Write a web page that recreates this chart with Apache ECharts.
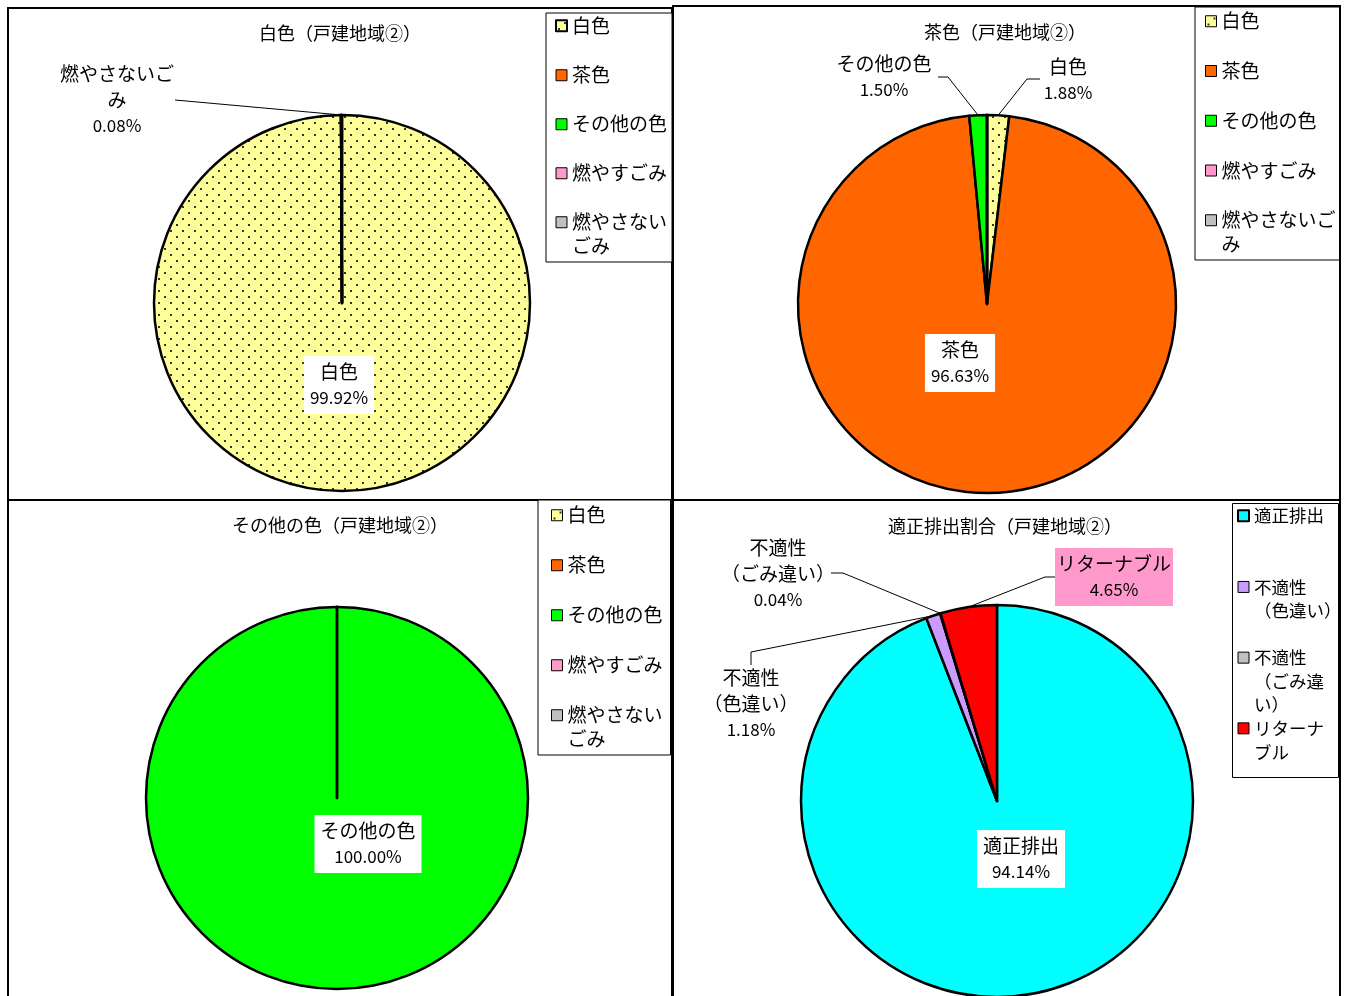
<!DOCTYPE html>
<html>
<head>
<meta charset="utf-8">
<script src="https://cdn.jsdelivr.net/npm/echarts@6/dist/echarts.min.js"></script>
<style>
  html, body { margin: 0; padding: 0; background: #fff; }
  #chart { width: 1347px; height: 996px; }
</style>
</head>
<body>
<div id="chart"></div>
<script>
// ---- categories ----
const colorCategories = ['白色', '茶色', 'その他の色', '燃やすごみ', '燃やさないごみ'];
const disposalCategories = ['適正排出', '不適性（色違い）', '不適性（ごみ違い）', 'リターナブル'];

// ---- shares (%) ----
const whiteValues = [99.92, 0, 0, 0, 0.08];
const brownValues = [1.88, 96.63, 1.50, 0, 0];
const otherValues = [0, 0, 100.00, 0, 0];
const disposalValues = [94.14, 1.18, 0.04, 4.65];

// ---- titles ----
const chartTitles = [
  '白色（戸建地域②）',
  '茶色（戸建地域②）',
  'その他の色（戸建地域②）',
  '適正排出割合（戸建地域②）'
];

const FONT = '"Noto Sans CJK JP", "Noto Sans", sans-serif';

// yellow fill with a staggered dot grid
function dottedFill() {
  const c = document.createElement('canvas');
  c.width = 12; c.height = 12;
  const g = c.getContext('2d');
  g.fillStyle = '#ffff99';
  g.fillRect(0, 0, 12, 12);
  g.fillStyle = '#333';
  g.fillRect(2, 2, 2, 2);
  g.fillRect(8, 8, 2, 2);
  return { image: c, repeat: 'repeat' };
}

const colorFills = [dottedFill(), '#ff6600', '#00ff00', '#ff99cc', '#c0c0c0'];
const disposalFills = ['#00ffff', '#cc99ff', '#c0c0c0', '#ff0000'];

// Panel geometry and label placement
const panels = [
  {
    names: colorCategories, values: whiteValues, fills: colorFills,
    center: [342, 303], radius: 188, titleAt: [340, 33],
    labelNames: { '燃やさないごみ': '燃やさないご\nみ' },
    labels: {
      0: { pos: 'inside', at: [339, 385] },
      4: { pos: 'outside', at: [117, 100], bend: [175, 100], end: [175, 100] }
    }
  },
  {
    names: colorCategories, values: brownValues, fills: colorFills,
    center: [987, 304], radius: 189, titleAt: [1005, 32],
    labelNames: {},
    labels: {
      0: { pos: 'outside', at: [1068, 80], bend: [1027, 79], end: [1040, 79] },
      1: { pos: 'inside', at: [960, 363] },
      2: { pos: 'outside', at: [884, 77], bend: [948, 77], end: [938, 77] }
    }
  },
  {
    names: colorCategories, values: otherValues, fills: colorFills,
    center: [337, 798], radius: 191, titleAt: [340, 525],
    labelNames: {},
    labels: {
      2: { pos: 'inside', at: [368, 844] }
    }
  },
  {
    names: disposalCategories, values: disposalValues, fills: disposalFills,
    center: [997, 801], radius: 196, titleAt: [1005, 526],
    labelNames: {
      '不適性（色違い）': '不適性\n（色違い）',
      '不適性（ごみ違い）': '不適性\n（ごみ違い）'
    },
    labels: {
      0: { pos: 'inside', at: [1021, 859] },
      1: { pos: 'outside', at: [751, 704], bend: [751, 652], end: [751, 665] },
      2: { pos: 'outside', at: [778, 574], bend: [843, 573], end: [831, 573] },
      3: { pos: 'outside', at: [1114, 577], bend: [1045, 577], end: [1057, 577], bg: '#ff99cc' }
    }
  }
];

// point on the rim at the middle of slice i
function rimPoint(panel, i) {
  const total = panel.values.reduce((a, b) => a + b, 0);
  let cum = 0;
  for (let k = 0; k < i; k++) cum += panel.values[k];
  cum += panel.values[i] / 2;
  const a = cum / total * Math.PI * 2;
  return [panel.center[0] + panel.radius * Math.sin(a), panel.center[1] - panel.radius * Math.cos(a)];
}

const labelRich = {
  n: { fontSize: 19, lineHeight: 26, color: '#000', fontFamily: FONT },
  v: { fontSize: 17, lineHeight: 26, color: '#000', fontFamily: FONT }
};

function buildSeries(panel) {
  return {
    type: 'pie',
    center: panel.center,
    radius: panel.radius,
    startAngle: 90,
    clockwise: true,
    avoidLabelOverlap: false,
    silent: true,
    animation: false,
    itemStyle: { borderColor: '#000', borderWidth: 2.5 },
    labelLine: { show: true, length: 10, length2: 10, lineStyle: { color: '#000', width: 1 } },
    label: {
      formatter: function (p) {
        const nm = panel.labelNames[p.name] || p.name;
        return '{n|' + nm + '}\n{v|' + p.value.toFixed(2) + '%}';
      },
      rich: labelRich
    },
    data: panel.names.map(function (n, i) {
      const lab = panel.labels[i];
      return {
        name: n,
        value: panel.values[i],
        itemStyle: { color: panel.fills[i] },
        label: lab ? {
          show: true,
          position: lab.pos,
          backgroundColor: lab.bg || (lab.pos === 'inside' ? '#fff' : 'transparent'),
          padding: lab.pos === 'inside' ? [3, 6, 3, 6] : (lab.bg ? [3, 2, 3, 2] : 0)
        } : { show: false },
        labelLine: { show: !!(lab && lab.pos === 'outside') }
      };
    }),
    labelLayout: function (params) {
      const lab = panel.labels[params.dataIndex];
      if (!lab) return {};
      const out = { x: lab.at[0], y: lab.at[1], align: 'center', verticalAlign: 'middle' };
      if (lab.pos === 'outside') {
        out.labelLinePoints = [rimPoint(panel, params.dataIndex), lab.bend, lab.end];
      }
      return out;
    }
  };
}

// legend text wrapping, padded to a fixed line count per legend
function legendFormatter(lines, count) {
  return function (name) {
    const arr = (lines[name] || [name]).slice();
    while (arr.length < count) arr.push(' ');
    return arr.join('\n');
  };
}

// square icon aligned with the first text line of a slot of given height
function slotIcon(size, lineH, slotH) {
  const top = lineH / 2 - size / 2;
  return 'path://M0,0h0M0,' + top + 'h' + size + 'v' + size + 'h-' + size + 'zM' + size + ',' + slotH + 'h0';
}

const LH = 23.5;
const colorLinesA = { '燃やさないごみ': ['燃やさない', 'ごみ'] };
const colorLinesB = { '燃やさないごみ': ['燃やさないご', 'み'] };
const disposalLines = {
  '不適性（色違い）': ['不適性', '（色違い）'],
  '不適性（ごみ違い）': ['不適性', '（ごみ違', 'い）'],
  'リターナブル': ['リターナ', 'ブル']
};

function buildLegend(cfg) {
  return {
    orient: 'vertical',
    left: cfg.left,
    top: cfg.top,
    padding: cfg.padding,
    itemGap: cfg.gap,
    itemWidth: 11,
    itemHeight: cfg.lines * LH,
    icon: slotIcon(11, LH, cfg.lines * LH),
    selectedMode: false,
    backgroundColor: cfg.framed ? '#fff' : 'transparent',
    borderColor: '#000',
    borderWidth: cfg.framed ? 1 : 0,
    itemStyle: { borderColor: '#000', borderWidth: 1 },
    textStyle: { fontSize: cfg.fontSize || 19, lineHeight: LH, color: '#000', fontFamily: FONT },
    formatter: legendFormatter(cfg.wrap, cfg.lines),
    data: cfg.names.map(function (n, i) {
      return i === cfg.bold ? { name: n, itemStyle: { borderWidth: 2 } } : { name: n };
    })
  };
}

const option = {
  backgroundColor: '#fff',
  animation: false,
  title: panels.map(function (p, i) {
    return {
      text: chartTitles[i],
      left: p.titleAt[0],
      top: p.titleAt[1] - 12,
      textAlign: 'center',
      padding: 0,
      textStyle: { fontSize: 18, fontWeight: 'normal', lineHeight: 24, color: '#000', fontFamily: FONT }
    };
  }),
  legend: [
    buildLegend({ names: colorCategories, left: 546, top: 13, padding: [0, 5, 4, 9], gap: 1, lines: 2, wrap: colorLinesA, bold: 0, framed: true }),
    buildLegend({ names: colorCategories, left: 1195, top: 7, padding: [2, 4, 4, 10], gap: 1.75, lines: 2, wrap: colorLinesB, framed: true }),
    buildLegend({ names: colorCategories, left: 538, top: 500, padding: [3, 8, 4, 13], gap: 2, lines: 2, wrap: colorLinesA, framed: true }),
    buildLegend({ names: disposalCategories, left: 1232, top: 503, padding: [0, 1, 4, 5], gap: -0.8, lines: 3, wrap: disposalLines, bold: 0, fontSize: 17.5, framed: false })
  ],
  graphic: [
    { type: 'rect', z: 0, shape: { x: 8, y: 8, width: 664, height: 492 }, style: { fill: 'none', stroke: '#000', lineWidth: 2 } },
    { type: 'rect', z: 0, shape: { x: 673, y: 6, width: 667, height: 494 }, style: { fill: 'none', stroke: '#000', lineWidth: 2 } },
    { type: 'rect', z: 0, shape: { x: 8, y: 500, width: 664, height: 510 }, style: { fill: 'none', stroke: '#000', lineWidth: 2 } },
    { type: 'rect', z: 0, shape: { x: 673, y: 500, width: 667, height: 510 }, style: { fill: 'none', stroke: '#000', lineWidth: 2 } },
    // frame of the disposal legend
    { type: 'rect', z: 1, shape: { x: 1232.5, y: 503.5, width: 106, height: 274 }, style: { fill: '#fff', stroke: '#000', lineWidth: 1 } }
  ],
  series: panels.map(buildSeries)
};

const chart = echarts.init(document.getElementById('chart'), null, { renderer: 'canvas' });
chart.setOption(option);
</script>
</body>
</html>
